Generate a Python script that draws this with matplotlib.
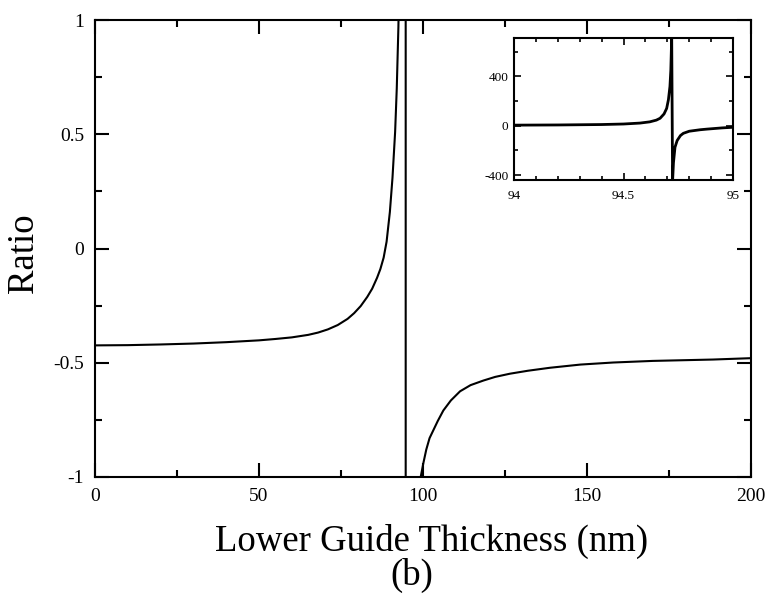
import matplotlib
matplotlib.use("Agg")
import matplotlib.pyplot as plt
from matplotlib.ticker import MultipleLocator

plt.rcParams['font.family'] = ['Liberation Serif', 'DejaVu Serif']
plt.rcParams['axes.unicode_minus'] = False

# lower guide thickness (nm) and ratio
thickness = [0, 10, 20, 30, 40, 50, 55, 60, 65, 68, 71, 74, 77, 79, 81, 83,
             84.5, 86, 87, 88, 88.9, 89.9, 90.7, 91.5, 92.0, 92.5, 93.0, 93.5,
             94.0, 94.2, 94.4, 94.5, 94.575, 94.62, 94.65, 94.667, 94.685,
             94.697, 94.705, 94.712, 94.716, 94.72,
             94.724, 94.728, 94.735, 94.745, 94.76, 94.773, 94.8, 94.85, 94.88,
             94.95, 95.0, 95.5, 96, 97, 98, 99.3, 100.1, 101, 102, 103.1, 104.5,
             106.2, 108.5, 111.3, 114.5, 118.4, 122, 126.5, 132, 138.7, 148,
             158, 170, 188.4, 200]
ratio = [-0.424, -0.423, -0.420, -0.416, -0.410, -0.402, -0.396, -0.389, -0.378,
         -0.368, -0.354, -0.335, -0.308, -0.283, -0.252, -0.212,
         -0.176, -0.128, -0.09, -0.04, 0.03, 0.16, 0.31, 0.51, 0.70, 0.97, 1.4, 2.2,
         4.3, 5.8, 9.2, 13.5, 21, 31, 45, 60, 95,
         140, 210, 318, 450, 720,
         -450, -300, -175, -120, -80, -62, -45, -33, -28,
         -18, -13, -4, -2.6, -1.7, -1.3, -1.0, -0.94, -0.88, -0.83, -0.797, -0.755,
         -0.709, -0.665, -0.625, -0.598, -0.578, -0.562, -0.548, -0.535, -0.522, -0.508,
         -0.499, -0.492, -0.486, -0.48]

fig = plt.figure(figsize=(7.70, 5.96), dpi=100)
ax = fig.add_axes([0.1234, 0.1997, 0.8519, 0.7667])
ax.plot(thickness, ratio, c="black", linewidth=1.5)
ax.set_xlim(0, 200)
ax.set_ylim(-1, 1)
ax.xaxis.set_major_locator(MultipleLocator(50))
ax.xaxis.set_minor_locator(MultipleLocator(25))
ax.yaxis.set_minor_locator(MultipleLocator(0.25))
ax.set_yticks([-1, -0.5, 0, 0.5, 1])
ax.set_yticklabels(["-1", "-0.5", "0", "0.5", "1"])
ax.tick_params(axis="both", which="both", direction="in", top=True, right=True,
               labelsize=14, width=1.5)
ax.tick_params(which="major", length=10, pad=8)
ax.tick_params(which="minor", length=5)
for s in ax.spines.values():
    s.set_linewidth(1.5)
fig.text(0.561, 0.092, "Lower Guide Thickness (nm)", fontsize=26.5,
         ha="center", va="center")
fig.text(0.031, 0.575, "Ratio", fontsize=26.5, rotation=90,
         ha="center", va="center")
fig.text(0.535, 0.035, "(b)", fontsize=26.5, ha="center", va="center")

# inset around the resonance
ins = fig.add_axes([0.6675, 0.698, 0.2845, 0.2382])
ins.plot(thickness, ratio, c="black", linewidth=2)
ins.set_xlim(94, 95)
ins.set_ylim(-440, 710)
ins.set_xticks([94, 94.5, 95])
ins.set_xticklabels(["94", "94.5", "95"])
ins.xaxis.set_minor_locator(MultipleLocator(0.1))
ins.set_yticks([-400, 0, 400])
ins.yaxis.set_minor_locator(MultipleLocator(200))
ins.tick_params(axis="both", which="both", direction="in", top=True, right=True,
                labelsize=9.5, width=1.2)
ins.tick_params(which="major", length=5, pad=4)
ins.tick_params(axis="x", which="major", pad=7)
ins.tick_params(which="minor", length=3)
for s in ins.spines.values():
    s.set_linewidth(1.5)

fig.savefig("out.png", dpi=100)
